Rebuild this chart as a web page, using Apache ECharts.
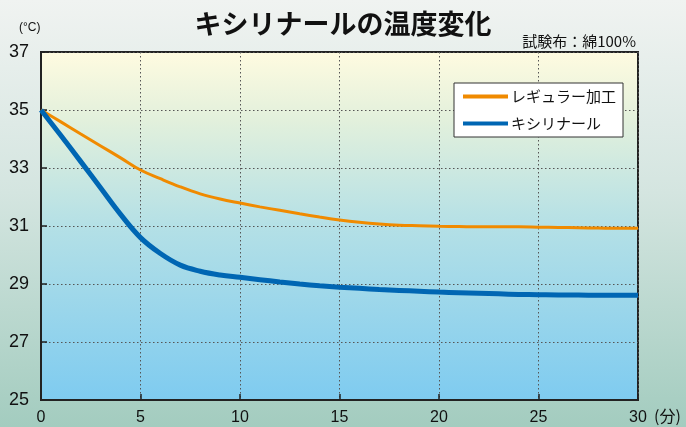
<!DOCTYPE html>
<html><head><meta charset="utf-8">
<script src="https://cdn.jsdelivr.net/npm/echarts@6/dist/echarts.min.js"></script>
<style>html,body{margin:0;padding:0;}#c{width:686px;height:427px;}</style>
</head><body><div id="c"></div>
<script>
const minutes = [0,1,2,3,4,5,6,7,8,9,10,11,12,13,14,15,16,17,18,19,20,21,22,23,24,25,26,27,28,29,30];
const regular = [35.0,34.59,34.17,33.76,33.35,32.93,32.63,32.35,32.11,31.93,31.79,31.66,31.54,31.42,31.31,31.21,31.13,31.07,31.03,31.01,30.99,30.98,30.97,30.97,30.97,30.96,30.95,30.94,30.93,30.92,30.92];
const xylinal = [35.0,34.12,33.22,32.31,31.40,30.60,30.05,29.65,29.44,29.31,29.23,29.15,29.07,29.00,28.94,28.89,28.85,28.81,28.78,28.75,28.72,28.70,28.68,28.66,28.64,28.63,28.62,28.62,28.61,28.61,28.61];
const seriesNames = ['レギュラー加工','キシリナール'];
const yTicks = [25,27,29,31,33,35,37];
const xTicks = [0,5,10,15,20,25,30];

const jp = '"Noto Sans CJK JP", sans-serif';
const num = '"Liberation Sans", Arial, sans-serif';
const chart = echarts.init(document.getElementById('c'));
chart.setOption({
  animation: false,
  backgroundColor: new echarts.graphic.LinearGradient(0,0,0,1,[
    {offset:0,color:'#f0f3f1'},{offset:0.45,color:'#d4e5e0'},{offset:1,color:'#a3ccbf'}]),
  title: {
    text: 'キシリナールの温度変化', left: 'center', top: 5,
    textStyle: {fontFamily: jp, fontSize: 27, fontWeight: 'bold', color: '#111'}
  },
  grid: {
    left: 41, right: 48, top: 52, bottom: 27, show: true,
    borderColor: '#222', borderWidth: 2,
    backgroundColor: new echarts.graphic.LinearGradient(0,0,0,1,[
      {offset:0,color:'#fffbe0'},{offset:0.2,color:'#e2f0dc'},{offset:0.5,color:'#b4e0e6'},{offset:1,color:'#7ecbf0'}])
  },
  legend: {
    orient: 'vertical', left: 454, top: 83,
    data: [
      {name: seriesNames[0], icon: 'rect', itemStyle: {color: '#f08a00'}},
      {name: seriesNames[1], icon: 'rect', itemStyle: {color: '#0066b3'}}
    ],
    itemWidth: 45, itemHeight: 4, itemGap: 12,
    padding: [6, 7, 6, 9],
    backgroundColor: '#fff', borderColor: '#333', borderWidth: 1, borderRadius: 0,
    textStyle: {fontFamily: jp, fontSize: 15, color: '#111', padding: [0,0,0,-2]}
  },
  xAxis: {
    type: 'value', min: 0, max: 30, interval: 5,
    axisLine: {show: true, lineStyle: {color: '#222', width: 2}},
    axisTick: {show: true, inside: true, length: 6, lineStyle: {color: '#222', width: 1.5}},
    axisLabel: {fontFamily: num, fontSize: 16, color: '#111', margin: 10,
      formatter: v => xTicks.includes(v) ? String(v) : ''},
    splitLine: {show: true, lineStyle: {color: '#555', width: 1, type: [1.5, 2.5]}}
  },
  yAxis: {
    type: 'value', min: 25, max: 37, interval: 2,
    axisLine: {show: true, lineStyle: {color: '#222', width: 2}},
    axisTick: {show: true, inside: true, length: 6, lineStyle: {color: '#222', width: 1.5}},
    axisLabel: {fontFamily: num, fontSize: 18, color: '#111', margin: 12,
      formatter: v => yTicks.includes(v) ? String(v) : ''},
    splitLine: {show: true, lineStyle: {color: '#555', width: 1, type: [1.5, 2.5]}}
  },
  graphic: [
    {type: 'text', left: 19, top: 22, style: {text: '(°C)', font: '12px ' + num, fill: '#111'}},
    {type: 'text', right: 50, top: 34, style: {text: '試験布：綿100%', font: '15px ' + jp, fill: '#111'}},
    {type: 'text', left: 654, top: 408, style: {text: '(分)', font: '16px ' + jp, fill: '#111'}}
  ],
  series: [
    {name: seriesNames[0], type: 'line', smooth: 0.4, showSymbol: false, z: 3,
      data: minutes.map((m,i) => [m, regular[i]]),
      lineStyle: {color: '#f08a00', width: 3}, itemStyle: {color: '#f08a00'}},
    {name: seriesNames[1], type: 'line', smooth: 0.4, showSymbol: false, z: 4,
      data: minutes.map((m,i) => [m, xylinal[i]]),
      lineStyle: {color: '#0066b3', width: 5}, itemStyle: {color: '#0066b3'}}
  ]
});
</script></body></html>
